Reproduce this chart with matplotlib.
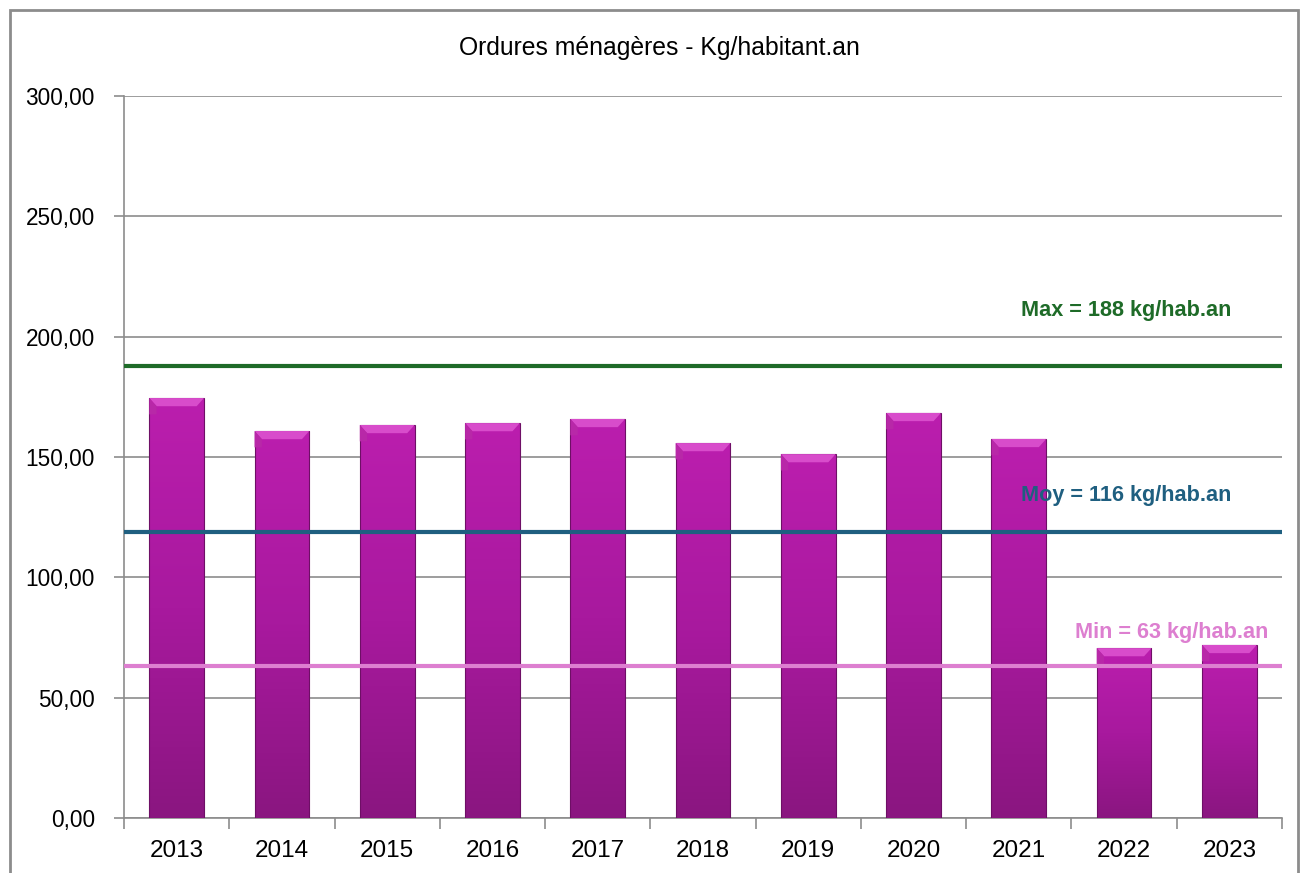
import numpy as np
import matplotlib.pyplot as plt
from matplotlib.patches import Rectangle, Polygon
from matplotlib.colors import LinearSegmentedColormap
from matplotlib.ticker import FuncFormatter, MultipleLocator

# données
annees = ['2013', '2014', '2015', '2016', '2017', '2018', '2019', '2020', '2021', '2022', '2023']
om = [174.5, 160.8, 163.3, 164.1, 165.8, 155.8, 151.2, 168.3, 157.5, 70.6, 71.9]
val_max = 188
val_moy = 118.7
val_min = 63
txt_max = 'Max = 188 kg/hab.an'
txt_moy = 'Moy = 116 kg/hab.an'
txt_min = 'Min = 63 kg/hab.an'

plt.rcParams['font.family'] = ['Liberation Sans', 'DejaVu Sans']

fig = plt.figure(figsize=(13, 8.73), dpi=100)
ax = fig.add_axes([124/1300, 1-818/873, (1282-124)/1300, (818-96)/873])

# cadre extérieur
fig.patches.append(Rectangle((10/1300, -0.02), 1288/1300, 1-10/873+0.02,
                             transform=fig.transFigure, fill=False,
                             edgecolor='#8c8c8c', lw=2))

x = np.arange(len(annees))
w = 0.52
cmap = LinearSegmentedColormap.from_list('mag', ['#8a1680', '#a8199e', '#bb1eae'])
grad = np.linspace(0, 1, 256).reshape(-1, 1)

for xi, h in zip(x, om):
    x0, x1 = xi - w/2, xi + w/2
    im = ax.imshow(grad, extent=[x0, x1, 0, h], origin='lower', cmap=cmap,
                   aspect='auto', zorder=3)
    r = Rectangle((x0, 0), w, h, fill=False, edgecolor='#6e0f66', lw=0.8, zorder=4)
    ax.add_patch(r)
    im.set_clip_path(r)
    d, dh = 0.07, 3.4
    # biseau du haut
    ax.add_patch(Polygon([(x0, h), (x1, h), (x1-d, h-dh), (x0+d, h-dh)],
                         closed=True, facecolor='#d84ccb', edgecolor='none', zorder=5))
    ax.add_patch(Polygon([(x0, h), (x0+d, h-dh), (x0+d, h-2*dh), (x0, h-2*dh)],
                         closed=True, facecolor='#b828a8', edgecolor='none', zorder=5))

ax.plot([-0.5, 10.5], [val_max, val_max], color='#1e6b28', lw=3, zorder=6, solid_capstyle='butt')
ax.plot([-0.5, 10.5], [val_moy, val_moy], color='#1f5f80', lw=3, zorder=6, solid_capstyle='butt')
ax.plot([-0.5, 10.5], [val_min, val_min], color='#dd7fd0', lw=3, zorder=6, solid_capstyle='butt')

lab = dict(fontsize=15.6, fontweight='bold', ha='right', va='center', zorder=7)
ax.text(10.02, 211, txt_max, color='#1e6b28', **lab)
ax.text(10.02, 134, txt_moy, color='#1f5f80', **lab)
ax.text(10.37, 77, txt_min, color='#dd7fd0', **lab)

ax.set_xlim(-0.5, 10.5)
ax.set_ylim(0, 300)
ax.yaxis.set_major_locator(MultipleLocator(50))
ax.yaxis.set_major_formatter(FuncFormatter(lambda v, p: f'{v:.2f}'.replace('.', ',')))
ax.grid(axis='y', color='#8c8c8c', lw=1.2, zorder=0)
ax.set_axisbelow(True)

ax.set_xticks(x)
ax.set_xticklabels(annees)
ax.set_xticks(np.arange(-0.5, 11, 1), minor=True)
ax.tick_params(axis='x', which='major', length=0, pad=16, labelsize=17.5)
ax.tick_params(axis='x', which='minor', length=8, color='#8c8c8c', width=1.2)
ax.tick_params(axis='y', length=7, color='#8c8c8c', width=1.2, labelsize=16.3, pad=14)

for s in ['top', 'right']:
    ax.spines[s].set_visible(False)
for s in ['left', 'bottom']:
    ax.spines[s].set_color('#8c8c8c')
    ax.spines[s].set_linewidth(1.2)

fig.text(659/1300, 1-48/873, 'Ordures ménagères - Kg/habitant.an', ha='center', va='center',
         fontsize=17.8)

fig.savefig('out.png', dpi=100)
